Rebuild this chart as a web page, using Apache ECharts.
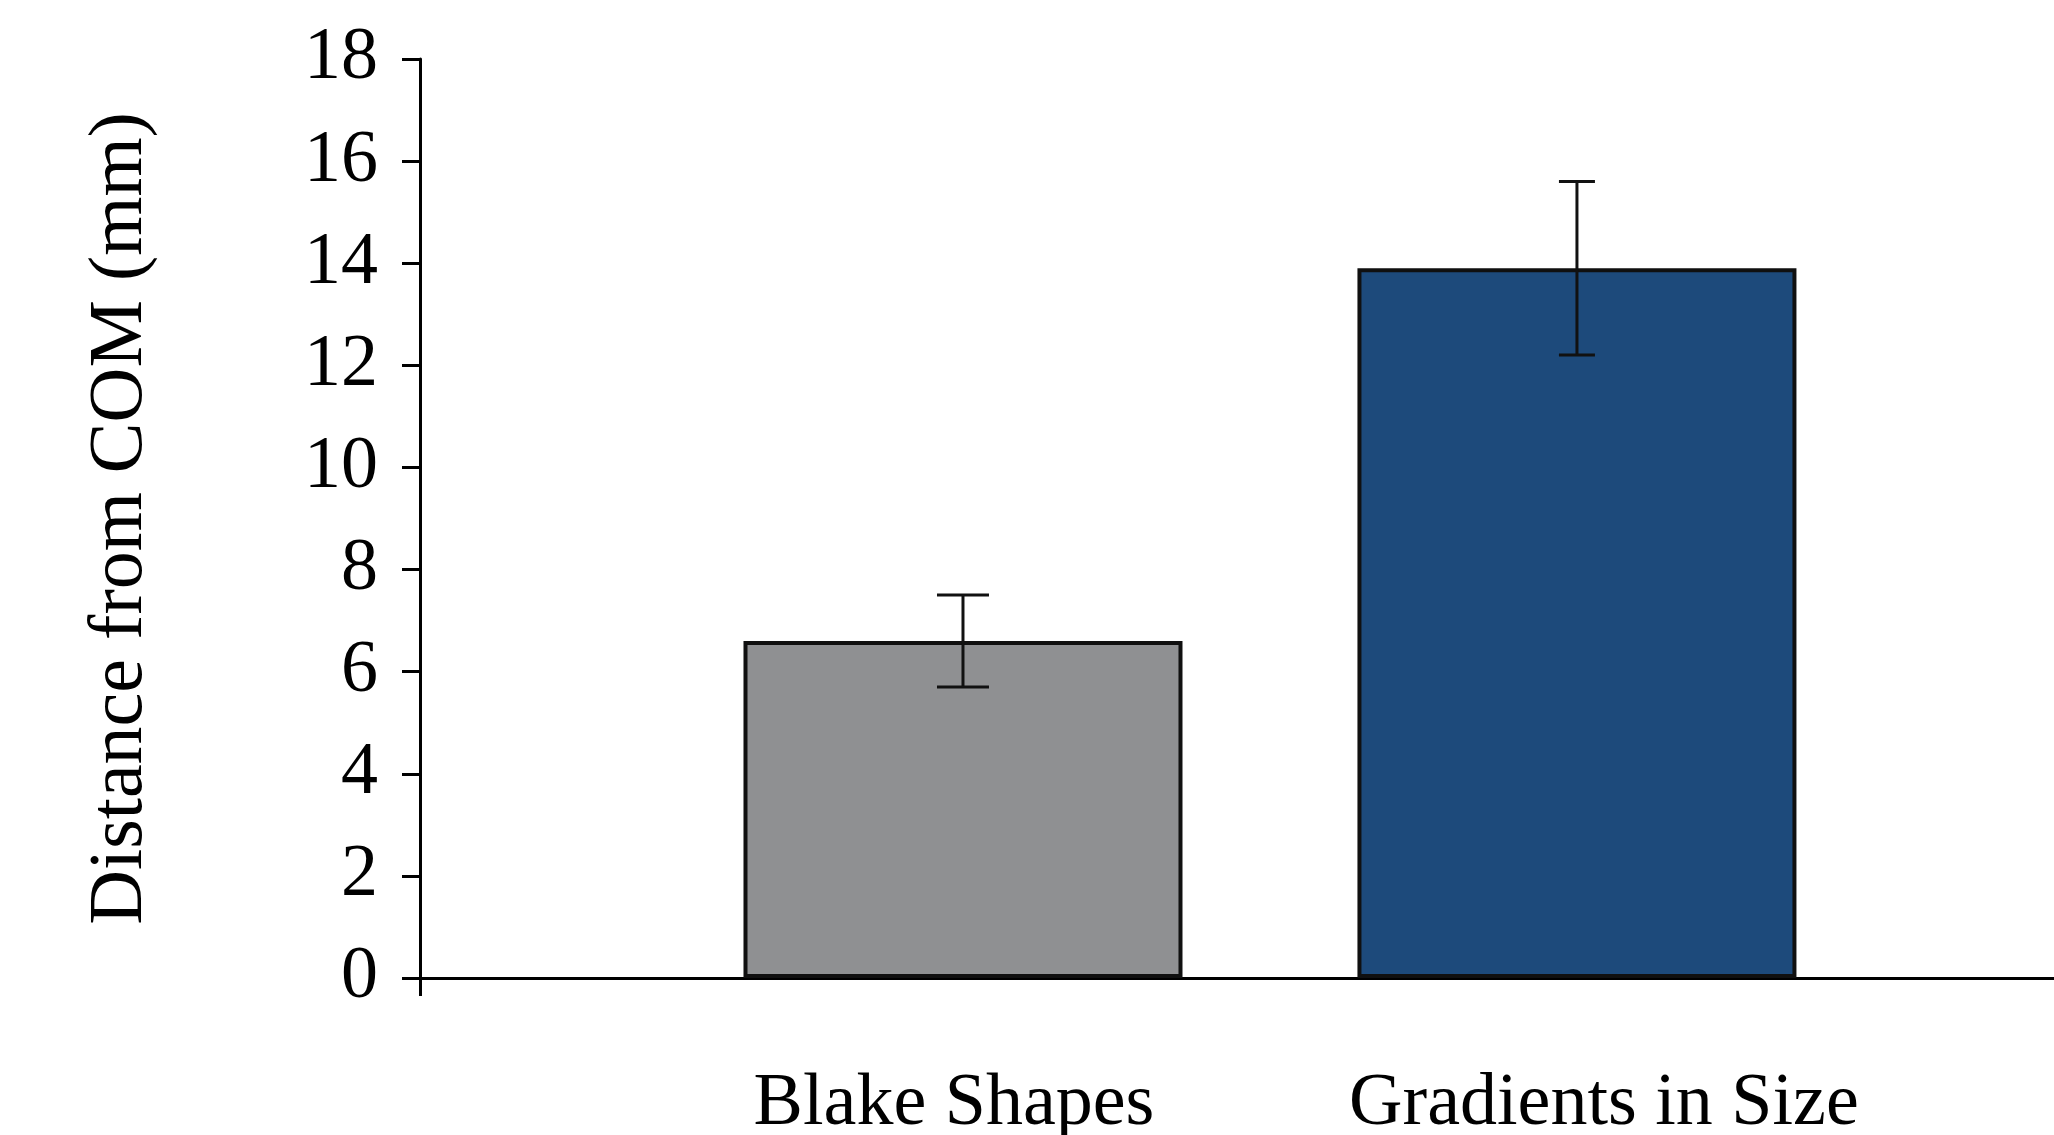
<!DOCTYPE html>
<html>
<head>
<meta charset="utf-8">
<script src="https://cdn.jsdelivr.net/npm/echarts@6/dist/echarts.min.js"></script>
<style>
  html, body { margin: 0; padding: 0; background: #ffffff; }
  #chart { width: 2054px; height: 1135px; }
</style>
</head>
<body>
<div id="chart"></div>
<script>
// Mean distance from the centre of mass, with error bars
const categories = ['Blake Shapes', 'Gradients in Size'];
const means = [6.6, 13.9];
const errors = [0.9, 1.7];
const barColors = ['#8f9092', '#1d4a7b'];
const yTicks = [0, 2, 4, 6, 8, 10, 12, 14, 16, 18];

// Cap half-widths of the error bars, in pixels
const capHalf = [26, 18];

// Horizontal extent of the value axis that carries the bars
const X_MIN = 0.1156;
const X_MAX = 2.777;

const FONT = '"Liberation Serif", "Times New Roman", serif';
const LABEL_STYLE = { fontFamily: FONT, fontSize: 74, color: '#000' };

const barData = means.map((m, i) => ({
  value: [i + 1, m],
  itemStyle: { color: barColors[i] }
}));
const errData = means.map((m, i) => [i + 1, m - errors[i], m + errors[i], i]);

const chart = echarts.init(document.getElementById('chart'), null, { renderer: 'canvas' });

chart.setOption({
  backgroundColor: '#ffffff',
  animation: false,
  grid: { left: 420, right: 0, top: 59, bottom: 157, containLabel: false, outerBoundsMode: 'none' },
  xAxis: {
    type: 'value',
    min: X_MIN,
    max: X_MAX,
    splitLine: { show: false },
    axisLine: { show: true, lineStyle: { color: '#000', width: 3 } },
    axisTick: {
      show: true,
      customValues: [X_MIN],
      length: 18,
      inside: false,
      lineStyle: { color: '#000', width: 3 }
    },
    axisLabel: {
      customValues: [1, 2],
      formatter: v => {
        const i = Math.round(v) - 1;
        return categories[i] ? '{c' + i + '|' + categories[i] + '}' : '';
      },
      ...LABEL_STYLE,
      margin: 90,
      rich: {
        c0: { ...LABEL_STYLE, padding: [0, 18, 0, 0] },
        c1: { ...LABEL_STYLE, padding: [0, 0, 0, 54] }
      }
    }
  },
  yAxis: {
    type: 'value',
    min: yTicks[0],
    max: yTicks[yTicks.length - 1],
    interval: 2,
    name: 'Distance from COM (mm)',
    nameLocation: 'middle',
    nameGap: 261,
    nameRotate: 90,
    nameTextStyle: { fontFamily: FONT, fontSize: 76, color: '#000' },
    splitLine: { show: false },
    axisLine: { show: true, lineStyle: { color: '#000', width: 3 } },
    axisTick: { show: true, length: 18, inside: false, lineStyle: { color: '#000', width: 3 } },
    axisLabel: {
      ...LABEL_STYLE,
      margin: 42,
      padding: [16, 0, 0, 0]
    }
  },
  series: [
    {
      type: 'bar',
      data: barData,
      barWidth: 439,
      itemStyle: { borderColor: '#101010', borderWidth: 4 },
      z: 2
    },
    {
      type: 'custom',
      data: errData,
      z: 5,
      renderItem: (params, api) => {
        const x = api.value(0);
        const lo = api.coord([x, api.value(1)]);
        const hi = api.coord([x, api.value(2)]);
        const half = capHalf[api.value(3)];
        const style = { stroke: '#111', lineWidth: 3 };
        return {
          type: 'group',
          children: [
            { type: 'line', shape: { x1: hi[0], y1: hi[1], x2: lo[0], y2: lo[1] }, style },
            { type: 'line', shape: { x1: hi[0] - half, y1: hi[1], x2: hi[0] + half, y2: hi[1] }, style },
            { type: 'line', shape: { x1: lo[0] - half, y1: lo[1], x2: lo[0] + half, y2: lo[1] }, style }
          ]
        };
      }
    }
  ]
});
</script>
</body>
</html>
